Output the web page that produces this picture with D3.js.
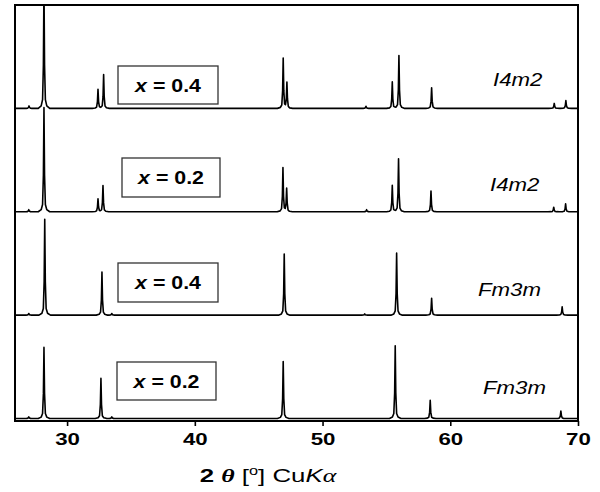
<!DOCTYPE html>
<html><head><meta charset="utf-8">
<script src="https://cdn.jsdelivr.net/npm/d3@7"></script>
<style>body{margin:0;background:#fff} svg{display:block}</style>
</head><body><svg id="c" width="600" height="492"></svg>
<script>
// ---- data ----
const xDomain = [26, 70];
const xTickValues = [30, 40, 50, 60, 70];
const traceOffsets = [75, 50, 25, 0];            // vertical stacking offset (a.u.)
const compositionValues = ["0.4", "0.2", "0.4", "0.2"];
const phaseLabels = ["I4m2", "I4m2", "Fm3m", "Fm3m"];
// peaks: [2θ, intensity (a.u.)]
const peaksX04I4m2 = [[27.02,0.6],[28.19,30],[32.42,4.6],[32.86,8.2],[46.92,12.1],[47.21,6.2],[53.4,0.5],[55.46,6.4],[55.98,12.8],[58.54,5.0],[68.14,1.2],[69.05,1.9]];
const peaksX02I4m2 = [[27.0,0.5],[28.19,25.2],[32.42,3.1],[32.81,6.3],[46.9,10.6],[47.19,5.6],[53.45,0.5],[55.46,6.4],[55.95,12.8],[58.49,5.0],[68.1,1.1],[69.03,1.9]];
const peaksX04Fm3m = [[27.0,0.4],[28.25,23.2],[32.73,10.4],[33.5,0.4],[47.0,14.8],[53.3,0.3],[55.8,15.0],[58.54,4.1],[68.76,2.0]];
const peaksX02Fm3m = [[27.0,0.4],[28.19,17.2],[32.65,9.7],[33.5,0.4],[46.92,13.8],[55.69,17.6],[58.43,4.4],[68.66,1.8]];
const allPeaks = [peaksX04I4m2, peaksX02I4m2, peaksX04Fm3m, peaksX02Fm3m];

// ---- layout ----
const svg = d3.select("#c");
const L = 15, R = 578, T = 5, B = 421;
const FONT = "'Liberation Sans', Arial, Helvetica, sans-serif";
const x = d3.scaleLinear().domain(xDomain).range([L + 1, R]);
const y = d3.scaleLinear().domain([-0.6, 100]).range([B, T]);

// peak profile shape (piecewise linear template)
const profOff = [-0.45, -0.22, -0.11, -0.045, 0, 0.045, 0.11, 0.22, 0.45];
const profFrac = [0, 0.02, 0.07, 0.35, 1, 0.35, 0.07, 0.02, 0];
function tmpl(d) {
  if (d <= profOff[0] || d >= profOff[profOff.length - 1]) return 0;
  for (let i = 0; i < profOff.length - 1; i++) {
    if (d >= profOff[i] && d <= profOff[i + 1]) {
      const t = (d - profOff[i]) / (profOff[i + 1] - profOff[i]);
      return profFrac[i] + t * (profFrac[i + 1] - profFrac[i]);
    }
  }
  return 0;
}
function traceVertices(peaks) {
  const xs = new Set([xDomain[0], xDomain[1]]);
  peaks.forEach(([p]) => profOff.forEach(o => xs.add(+(p + o).toFixed(4))));
  return Array.from(xs).sort((a, b) => a - b).map(v => [v, d3.sum(peaks, ([p, h]) => h * tmpl(v - p))]);
}

svg.append("defs").append("clipPath").attr("id", "clip")
  .append("rect").attr("x", L).attr("y", T).attr("width", R - L).attr("height", B - T);

const line = d3.line().x(d => x(d[0])).y(d => y(d[1]));
const g = svg.append("g").attr("clip-path", "url(#clip)");
allPeaks.forEach((pk, i) => {
  const off = traceOffsets[i];
  g.append("path")
    .datum(traceVertices(pk).map(([a, b]) => [a, b + off]))
    .attr("d", line).attr("fill", "none").attr("stroke", "#000")
    .attr("stroke-width", 1.6).attr("stroke-linejoin", "round");
});

// frame
svg.append("rect").attr("x", L).attr("y", T).attr("width", R - L).attr("height", B - T)
  .attr("fill", "none").attr("stroke", "#000").attr("stroke-width", 2);

// x axis
const ax = svg.append("g").attr("transform", `translate(0,${B})`)
  .call(d3.axisBottom(x).tickValues(xTickValues).tickSize(5).tickPadding(7).tickFormat(d3.format("d")));
ax.select(".domain").remove();
ax.selectAll("line").attr("stroke", "#000").attr("stroke-width", 1.6);
ax.selectAll("text").attr("fill", "#000")
  .style("font-family", FONT)
  .style("font-size", "16.5px").style("font-weight", "bold")
  .attr("transform", "scale(1.35,1)");

// composition boxes
const boxes = [[118, 66, 100, 38], [122, 158, 98, 39], [118, 263, 100, 39], [117, 362, 99, 38]];
boxes.forEach((b, i) => {
  svg.append("rect").attr("x", b[0]).attr("y", b[1]).attr("width", b[2]).attr("height", b[3])
    .attr("fill", "#fff").attr("stroke", "#333").attr("stroke-width", 1.3);
  const t = svg.append("text")
    .attr("transform", `translate(${b[0] + b[2] / 2},${b[1] + b[3] / 2 + 6.5}) scale(1.22,1)`)
    .attr("text-anchor", "middle")
    .style("font-family", FONT)
    .style("font-size", "17.5px").style("font-weight", "bold");
  t.append("tspan").style("font-style", "italic").text("x");
  t.append("tspan").text(" = " + compositionValues[i]);
});

// phase labels
const phasePos = [[493, 86], [490, 191], [478, 296], [483, 394]];
phaseLabels.forEach((s, i) => {
  svg.append("text")
    .attr("transform", `translate(${phasePos[i][0]},${phasePos[i][1]}) scale(1.27,1)`)
    .style("font-family", FONT)
    .style("font-size", "17.5px").style("font-style", "italic").text(s);
});

// axis title
const tt = svg.append("text")
  .attr("transform", "translate(268,482) scale(1.36,1)")
  .attr("text-anchor", "middle")
  .style("font-family", FONT)
  .style("font-size", "19px");
tt.append("tspan").style("font-weight", "bold").text("2 ");
tt.append("tspan").style("font-weight", "bold").style("font-style", "italic")
  .style("font-family", "'Liberation Serif', 'DejaVu Serif', serif").text("θ");
tt.append("tspan").text(" [");
tt.append("tspan").attr("dy", -7).style("font-size", "12px").text("o");
tt.append("tspan").attr("dy", 7).text("] Cu");
tt.append("tspan").style("font-style", "italic").text("K");
tt.append("tspan").style("font-style", "italic")
  .style("font-family", "'Liberation Serif', 'DejaVu Serif', serif").text("α");
</script></body></html>
